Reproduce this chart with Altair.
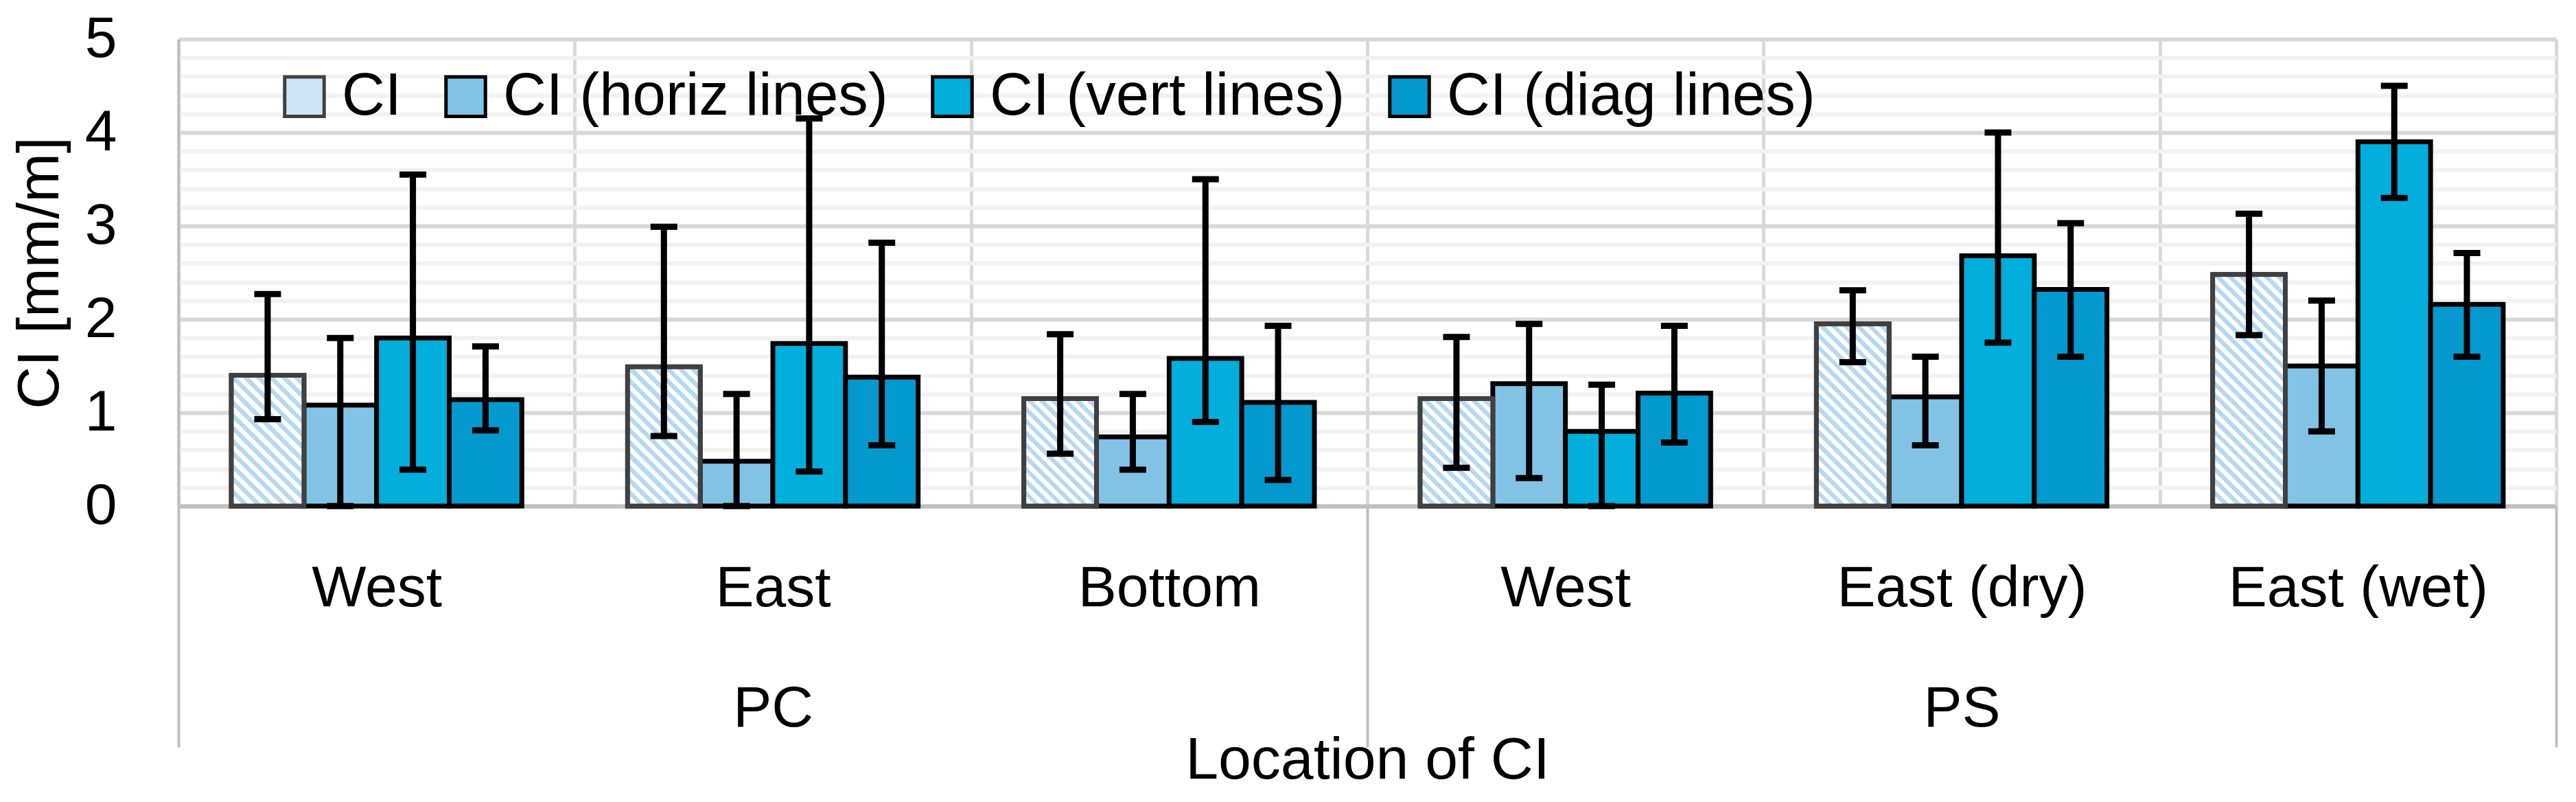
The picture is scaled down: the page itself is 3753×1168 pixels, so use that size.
import math
import altair as alt
import pandas as pd

# ---------------- data ----------------
groups = ["PC", "PC", "PC", "PS", "PS", "PS"]
locations = ["West", "East", "Bottom", "West", "East (dry)", "East (wet)"]
series_names = ["CI", "CI (horiz lines)", "CI (vert lines)", "CI (diag lines)"]

ci_mean = [1.40, 1.49, 1.15, 1.15, 1.95, 2.48]
ci_lo = [0.93, 0.75, 0.56, 0.41, 1.54, 1.83]
ci_hi = [2.27, 2.99, 1.84, 1.81, 2.31, 3.13]

horiz_mean = [1.08, 0.48, 0.74, 1.31, 1.17, 1.50]
horiz_lo = [0.00, 0.00, 0.39, 0.30, 0.65, 0.80]
horiz_hi = [1.80, 1.20, 1.20, 1.95, 1.60, 2.20]

vert_mean = [1.80, 1.74, 1.58, 0.80, 2.68, 3.90]
vert_lo = [0.39, 0.37, 0.90, 0.00, 1.75, 3.30]
vert_hi = [3.55, 4.15, 3.50, 1.30, 4.00, 4.50]

diag_mean = [1.14, 1.38, 1.11, 1.21, 2.32, 2.16]
diag_lo = [0.81, 0.65, 0.28, 0.68, 1.60, 1.60]
diag_hi = [1.71, 2.82, 1.93, 1.93, 3.03, 2.71]

y_ticks = [0, 0.2, 0.4, 0.6, 0.8, 1, 1.2, 1.4, 1.6, 1.8, 2, 2.2, 2.4, 2.6, 2.8,
           3, 3.2, 3.4, 3.6, 3.8, 4, 4.2, 4.4, 4.6, 4.8, 5]

# ---------------- styling / layout ----------------
FONT = "Liberation Sans"
W, H = 3464, 680
Y_MAX = 5
XO_PAD_OUTER = 0.728          # gap around each cluster of four bars
fill_range = ["#CFE5F5", "#82C3E5", "#02AEDC", "#0399CE"]
stroke_range = ["#404040", "#000000", "#000000", "#000000"]
HATCH = "#B7D9F1"

keys = [f"{g}|{l}" for g, l in zip(groups, locations)]

rows = []
for s, means, los, his in zip(
    series_names,
    [ci_mean, horiz_mean, vert_mean, diag_mean],
    [ci_lo, horiz_lo, vert_lo, diag_lo],
    [ci_hi, horiz_hi, vert_hi, diag_hi],
):
    for k, m, lo, hi in zip(keys, means, los, his):
        rows.append({"key": k, "series": s, "mean": m, "lo": lo, "hi": hi})
df = pd.DataFrame(rows)

# x labels: inner location, plus group name under the middle category
label_parts = []
for g in dict.fromkeys(groups):
    idx = [i for i, gg in enumerate(groups) if gg == g]
    mid = idx[len(idx) // 2]
    label_parts.append(f"datum.value == '{keys[mid]}' ? ['{locations[mid]}', '{g}']")
label_expr = " : ".join(label_parts) + " : split(datum.value, '|')[1]"

# group boundaries (separator ticks below the axis)
last_keys = [keys[i] for i in range(len(keys)) if i == len(keys) - 1 or groups[i] != groups[i + 1]]
tick_test = " || ".join(["datum.extra"] + [f"datum.value == '{k}'" for k in last_keys])

x_axis = alt.Axis(
    title="Location of CI",
    labelExpr=label_expr,
    labelFont=FONT, labelFontSize=84, labelColor="black",
    labelAngle=0, labelBaseline="top", labelLineHeight=175,
    labelPadding=79 - 351, labelLimit=2000, labelOverlap=False,
    tickBand="extent", tickSize=351, tickWidth=4,
    tickColor={"condition": {"test": tick_test, "value": "#BFBFBF"}, "value": "transparent"},
    domainColor="#BFBFBF", domainWidth=6,
    grid=True, gridColor="#D9D9D9", gridWidth=5,
    titleFont=FONT, titleFontSize=86, titleFontWeight="normal", titleColor="black",
    titleX=W / 2, titleY=328, titleAlign="center", titleBaseline="top",
)

int_test = "abs(datum.value - round(datum.value)) < 0.001"
y_axis = alt.Axis(
    title="CI [mm/m]",
    values=y_ticks,
    labelExpr=f"{int_test} ? format(datum.value, 'd') : ''",
    labelOverlap=False,
    labelFont=FONT, labelFontSize=84, labelColor="black", labelPadding=90,
    ticks=False, tickSize=0,
    domainColor="#BFBFBF", domainWidth=4,
    grid=True,
    gridColor={"condition": {"test": int_test, "value": "#D9D9D9"}, "value": "#F2F2F2"},
    gridWidth=6,
    titleFont=FONT, titleFontSize=86, titleFontWeight="normal", titleColor="black",
    titleX=-244, titleY=H / 2, titleAngle=270, titleAlign="center", titleBaseline="top",
)

x_scale = alt.Scale(domain=keys, paddingInner=0, paddingOuter=0)
xo_scale = alt.Scale(domain=series_names, paddingInner=0, paddingOuter=XO_PAD_OUTER)
y_scale = alt.Scale(domain=[0, Y_MAX], nice=False, zero=True)


def X():
    return alt.X("key:N", scale=x_scale, axis=x_axis, title="Location of CI")


def XO():
    return alt.XOffset("series:N", scale=xo_scale)


def Y(field):
    return alt.Y(f"{field}:Q", scale=y_scale, axis=y_axis, title="CI [mm/m]")


legend = alt.Legend(
    orient="none", legendX=140, legendY=40, direction="horizontal", title=None,
    symbolType="square", symbolSize=3300, symbolStrokeWidth=5,
    labelFont=FONT, labelFontSize=87, labelColor="black", labelOffset=11,
    columnPadding=50, padding=0, labelLimit=2000,
)

bars = alt.Chart(df).mark_bar(strokeWidth=7).encode(
    x=X(), xOffset=XO(), y=Y("mean"),
    fill=alt.Fill("series:N", scale=alt.Scale(domain=series_names, range=fill_range), legend=legend),
    stroke=alt.Stroke("series:N", scale=alt.Scale(domain=series_names, range=stroke_range), legend=legend),
)

# hatched overlay for the plain "CI" series (diagonal stripes via gradient stops)
step = W / len(keys)
bar_w = step / (len(series_names) + 2 * XO_PAD_OUTER)
px_per_unit = H / Y_MAX
period = 12.7
hatch_layers = []
ci_df = df[df["series"] == series_names[0]]
for _, r in ci_df.iterrows():
    w = bar_w
    h = max(r["mean"] * px_per_unit, 1.0)
    dx = (1 + h / w) / (1 + (h / w) ** 2)
    n = max(1, int(round((w + h) / (math.sqrt(2) * period))))
    stops = []
    for k in range(n):
        a, b, c = k / n, (k + 0.5) / n, (k + 1) / n
        stops += [
            alt.GradientStop(color=HATCH, offset=a),
            alt.GradientStop(color=HATCH, offset=b),
            alt.GradientStop(color="#FFFFFF", offset=b),
            alt.GradientStop(color="#FFFFFF", offset=c),
        ]
    grad = alt.LinearGradient(gradient="linear", stops=stops,
                              x1=0, y1=1, x2=dx, y2=1 - dx * h / w)
    one = pd.DataFrame([r.to_dict()])
    hatch_layers.append(
        alt.Chart(one).mark_bar(fill=grad, stroke="#404040", strokeWidth=7).encode(
            x=X(), xOffset=XO(), y=Y("mean")
        )
    )

err = alt.Chart(df).mark_rule(color="black", strokeWidth=9).encode(
    x=X(), xOffset=XO(), y=Y("lo"), y2="hi:Q"
)
cap_hi = alt.Chart(df).mark_tick(color="black", thickness=9, size=39, opacity=1).encode(
    x=X(), xOffset=XO(), y=Y("hi")
)
cap_lo = alt.Chart(df).mark_tick(color="black", thickness=9, size=39, opacity=1).encode(
    x=X(), xOffset=XO(), y=Y("lo")
)

chart = alt.layer(bars, *hatch_layers, err, cap_hi, cap_lo).properties(
    width=W, height=H,
    autosize=alt.AutoSizeParams(type="none"),
    padding={"left": 252, "top": 49, "right": 21, "bottom": 415},
    background="white",
).configure(font=FONT).configure_view(stroke=None)

chart.save("out.html", embed_options={"renderer": "svg", "actions": False})
